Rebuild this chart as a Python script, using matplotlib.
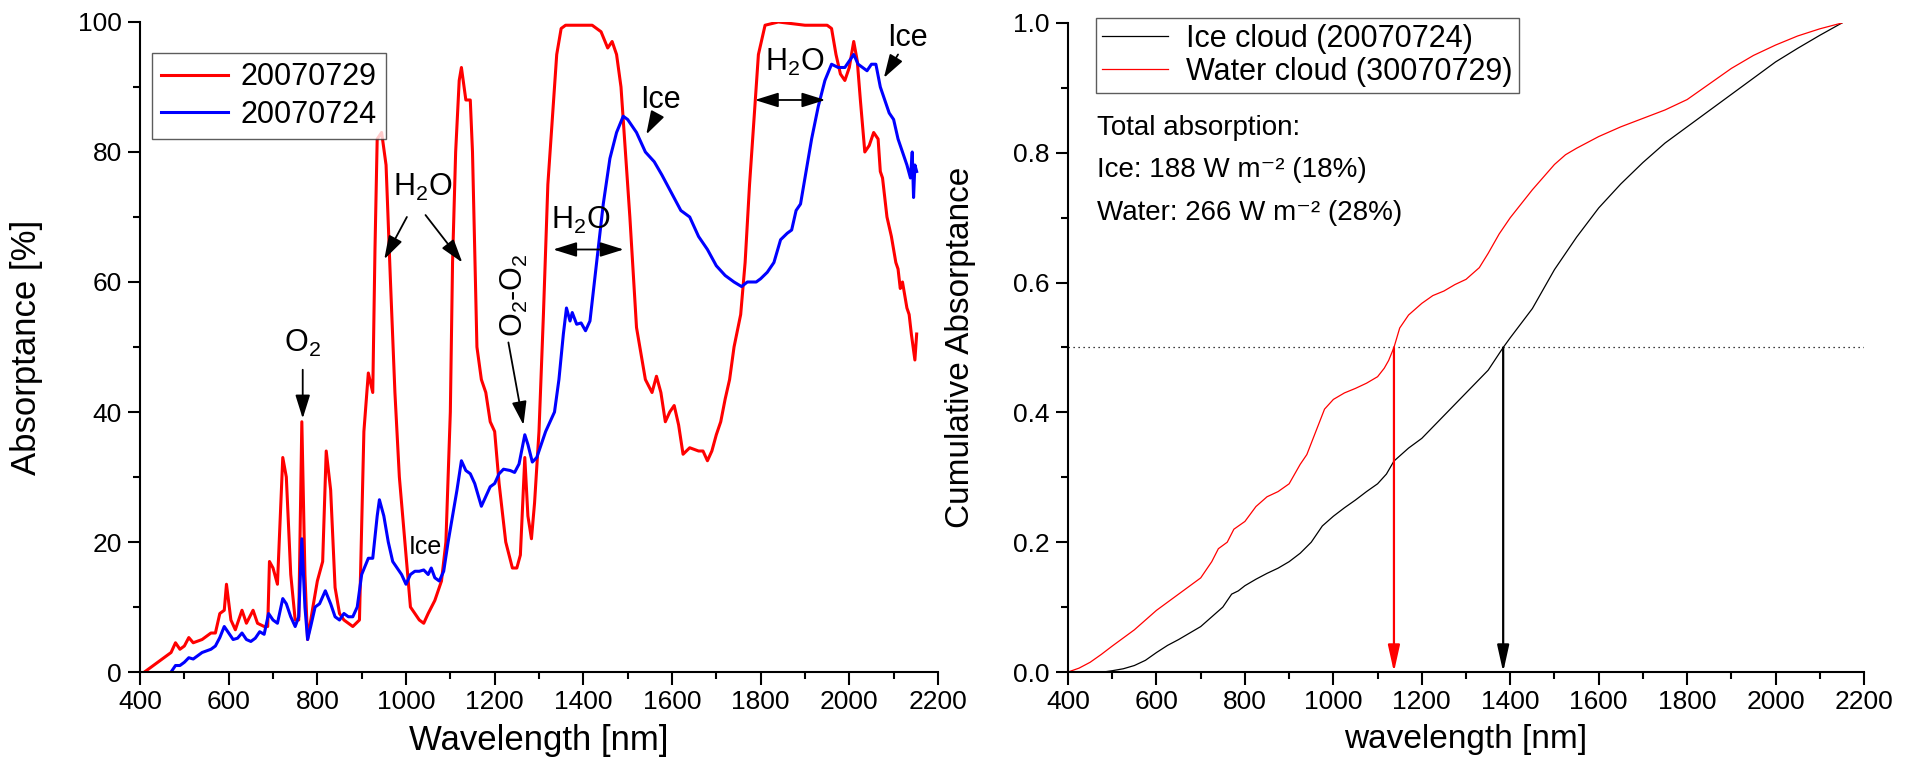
import matplotlib
matplotlib.use("Agg")
import matplotlib.pyplot as plt
from matplotlib.ticker import MultipleLocator

plt.rcParams["font.family"] = ["Liberation Sans", "DejaVu Sans"]

# -------------------------------
# DATA
# -------------------------------
# absorptance spectrum, water cloud 20070729
red_wl = [410, 430, 450, 470, 480, 490, 500, 510, 520, 540, 560, 570, 580, 590, 595, 605, 615,
          630, 640, 655, 665, 680, 688, 692, 700, 710, 722, 730, 740, 750, 758, 765, 772, 778,
          790, 800, 812, 820, 830, 840, 850, 860, 870, 880, 895, 905, 915, 925, 930, 935, 945,
          955, 965, 975, 985, 1000, 1010, 1020, 1030, 1040, 1050, 1065, 1080, 1090, 1100, 1105,
          1112, 1120, 1125, 1135, 1145, 1150, 1160, 1170, 1180, 1190, 1200, 1210, 1225, 1240,
          1250, 1258, 1268, 1275, 1283, 1290, 1300, 1310, 1320, 1330, 1340, 1350, 1360, 1400,
          1420, 1440, 1455, 1465, 1475, 1485, 1495, 1505, 1520, 1540, 1555, 1565, 1575, 1585,
          1595, 1605, 1615, 1625, 1640, 1660, 1670, 1680, 1690, 1700, 1710, 1720, 1730, 1740,
          1755, 1765, 1775, 1785, 1795, 1810, 1840, 1900, 1950, 1960, 1970, 1980, 1990, 2000,
          2010, 2018, 2025, 2035, 2045, 2055, 2065, 2070, 2075, 2085, 2095, 2105, 2110, 2115,
          2120, 2125, 2130, 2135, 2140, 2148, 2152]
red_val = [0, 1, 2, 3, 4.5, 3.5, 4, 5.3, 4.5, 5, 6, 6, 9, 9.5, 13.5, 8, 6.5,
           9.5, 7.5, 9.5, 7.5, 7, 7, 17, 16, 13.5, 33, 30, 15, 8, 8, 38.5, 15, 5,
           10, 14, 17, 34, 28, 13, 9, 8, 7.5, 7, 8, 37, 46, 43, 65, 82, 83,
           78, 60, 43, 30, 18, 10, 9, 8, 7.5, 9, 11, 14, 20, 40, 63,
           80, 91, 93, 88, 88, 80, 50, 45, 43, 38.5, 37, 29, 20, 16,
           16, 18, 33, 24, 20.5, 26, 37, 55, 75, 85, 95, 99, 99.5, 99.5,
           99.5, 98.5, 96, 97, 95, 90, 80, 70, 53, 45, 43, 45.5, 43, 38.5,
           40, 41, 38, 33.5, 34.5, 34, 34, 32.5, 34, 36.5, 38.5, 42, 45, 50,
           55, 63, 75, 85, 95, 99.5, 100, 99.5, 99.5, 99, 95, 92, 91, 93,
           97, 94, 88, 80, 81, 83, 82, 77, 76, 70, 67, 63, 62, 59,
           60, 58, 56, 55, 52, 48, 52]

# absorptance spectrum, ice cloud 20070724
blue_wl = [470, 480, 490, 500, 510, 520, 540, 560, 570, 580, 590, 600, 610, 620, 630, 640, 650,
           660, 670, 680, 690, 700, 710, 722, 730, 740, 750, 758, 765, 772, 778, 785, 795, 805,
           818, 830, 840, 850, 860, 870, 880, 890, 900, 915, 925, 935, 940, 950, 960, 970, 980,
           990, 1000, 1010, 1020, 1030, 1040, 1050, 1057, 1065, 1075, 1085, 1095, 1105, 1115,
           1125, 1135, 1145, 1155, 1170, 1180, 1190, 1200, 1210, 1220, 1235, 1245, 1255, 1268,
           1275, 1285, 1295, 1305, 1315, 1325, 1335, 1345, 1355, 1362, 1370, 1375, 1385, 1395,
           1405, 1415, 1425, 1435, 1445, 1460, 1475, 1490, 1500, 1520, 1540, 1560, 1577, 1602,
           1620, 1640, 1660, 1680, 1700, 1720, 1740, 1757, 1770, 1790, 1800, 1815, 1830, 1845,
           1860, 1870, 1880, 1890, 1900, 1915, 1930, 1945, 1960, 1975, 1990, 2000, 2010, 2020,
           2030, 2040, 2050, 2060, 2070, 2080, 2090, 2100, 2110, 2120, 2130, 2138, 2142, 2145,
           2148, 2152]
blue_val = [0, 1, 1, 1.5, 2.2, 2, 3, 3.5, 4, 5.3, 7, 6, 5, 5.2, 6, 5, 4.7,
            5.2, 6.2, 5.8, 9, 8, 7.5, 11.3, 10.5, 8.5, 7, 8.5, 20.5, 10, 5, 7, 10, 10.5,
            12.5, 10.5, 8.5, 8, 9, 8.5, 8.5, 10, 15, 17.5, 17.5, 24, 26.5, 24, 20, 17, 16,
            15, 13.5, 15, 15.5, 15.5, 15.7, 15, 16, 14.5, 14, 15.5, 20, 24, 28,
            32.5, 31, 30.5, 29, 25.5, 27, 28.5, 29, 30.5, 31.2, 31, 30.7, 32, 36.5,
            35, 32.3, 33, 35, 37, 38.5, 40, 45, 52, 56, 54, 55.3, 53.5, 53.7,
            52.5, 54, 60, 66, 72, 79, 83, 85.5, 85, 83, 80, 78.5, 76.5, 73.3,
            71, 70, 67, 65, 62.5, 61, 60, 59.3, 60, 60, 60.5, 61.5, 63, 66.5,
            67.5, 68, 71, 72, 76, 82, 87, 91, 93.5, 93, 93, 94, 95, 93.5,
            93, 92.5, 93.5, 93.5, 90, 88, 86, 85, 82, 80, 78, 76, 80, 73,
            78, 77]

# cumulative absorptance
ice_cum_wl = [400, 480, 500, 525, 550, 575, 600, 625, 650, 675, 700, 725, 750, 770, 785, 800, 825,
              850, 875, 900, 925, 950, 975, 1000, 1025, 1050, 1075, 1100, 1120, 1137, 1170, 1200,
              1250, 1300, 1350, 1384, 1400, 1450, 1500, 1550, 1600, 1650, 1700, 1750, 1800, 1850,
              1900, 1950, 2000, 2050, 2100, 2150]
ice_cum = [0, 0, 0.002, 0.005, 0.01, 0.018, 0.03, 0.041, 0.05, 0.06, 0.07, 0.085, 0.1, 0.12,
           0.125, 0.133, 0.143, 0.152, 0.16, 0.17, 0.183, 0.2, 0.225, 0.24, 0.253, 0.265, 0.278,
           0.29, 0.305, 0.325, 0.345, 0.36, 0.395, 0.43, 0.465, 0.5, 0.515, 0.56, 0.62, 0.67,
           0.715, 0.752, 0.785, 0.815, 0.84, 0.865, 0.89, 0.915, 0.94, 0.961, 0.981, 1.0]

water_cum_wl = [400, 425, 450, 475, 500, 550, 600, 650, 700, 725, 740, 760, 775, 800, 825, 850,
                875, 900, 925, 940, 960, 980, 1000, 1025, 1050, 1075, 1100, 1115, 1125, 1137, 1150,
                1170, 1200, 1225, 1250, 1275, 1300, 1330, 1350, 1375, 1400, 1450, 1500, 1525, 1550,
                1600, 1650, 1700, 1750, 1800, 1850, 1900, 1950, 2000, 2050, 2100, 2150]
water_cum = [0, 0.006, 0.015, 0.027, 0.04, 0.065, 0.095, 0.12, 0.145, 0.17, 0.19, 0.2, 0.22, 0.232,
             0.255, 0.27, 0.278, 0.29, 0.32, 0.335, 0.37, 0.405, 0.42, 0.43, 0.437, 0.445, 0.455,
             0.468, 0.48, 0.5, 0.53, 0.55, 0.568, 0.58, 0.587, 0.597, 0.605, 0.623, 0.645, 0.675,
             0.7, 0.743, 0.782, 0.797, 0.807, 0.825, 0.84, 0.853, 0.866, 0.882, 0.906, 0.93,
             0.95, 0.966, 0.98, 0.991, 1.0]

# wavelength where half of the absorption is reached
half_water = 1137
half_ice = 1384

# -------------------------------
# FIGURE
# -------------------------------
fig = plt.figure(figsize=(19.13, 7.66), dpi=100)
ax1 = fig.add_axes([0.0732, 0.1227, 0.4171, 0.8486])
ax2 = fig.add_axes([0.5583, 0.1227, 0.4161, 0.8473])

tick_fs = 19


def style_axes(ax):
    for side in ["top", "right"]:
        ax.spines[side].set_visible(False)
    for side in ["left", "bottom"]:
        ax.spines[side].set_linewidth(1.5)
    ax.tick_params(which="major", direction="out", length=9, width=1.5, labelsize=tick_fs, pad=4)
    ax.tick_params(which="minor", direction="out", length=5, width=1.5)
    ax.set_xlim(400, 2200)
    ax.xaxis.set_major_locator(MultipleLocator(200))
    ax.xaxis.set_minor_locator(MultipleLocator(100))


# -------------------------------
# LEFT: ABSORPTANCE SPECTRA
# -------------------------------
style_axes(ax1)
ax1.plot(red_wl, red_val, color="#ff0000", lw=2.2, label="20070729")
ax1.plot(blue_wl, blue_val, color="#0000ff", lw=2.2, label="20070724")
ax1.set_ylim(0, 100)
ax1.yaxis.set_major_locator(MultipleLocator(20))
ax1.yaxis.set_minor_locator(MultipleLocator(10))
ax1.set_xlabel("Wavelength [nm]", fontsize=25)
ax1.set_ylabel("Absorptance [%]", fontsize=25)
ax1.xaxis.set_label_coords(0.5, -0.08)
ax1.yaxis.set_label_coords(-0.122, 0.5)
leg1 = ax1.legend(loc="upper left", bbox_to_anchor=(0.015, 0.952), borderaxespad=0,
                  fontsize=22, fancybox=False, frameon=True, handlelength=2.2,
                  handletextpad=0.4, borderpad=0.3, labelspacing=0.25)
leg1.get_frame().set_edgecolor("#333333")
leg1.get_frame().set_linewidth(1.0)

ann_fs = 22
arrow = dict(arrowstyle="-|>,head_width=0.25,head_length=0.8", color="black", lw=1.3,
             mutation_scale=18, shrinkA=0, shrinkB=0)
darrow = dict(arrowstyle="<|-|>,head_width=0.25,head_length=0.8", color="black", lw=1.3,
              mutation_scale=18, shrinkA=0, shrinkB=0)

ax1.text(767, 50.5, "O$_\\mathregular{2}$", fontsize=ann_fs, ha="center", va="center")
ax1.annotate("", xy=(767, 39), xytext=(767, 46.5), arrowprops=arrow)

ax1.text(1037, 74.5, "H$_\\mathregular{2}$O", fontsize=ann_fs, ha="center", va="center")
ax1.annotate("", xy=(951, 63.5), xytext=(1002, 70), arrowprops=arrow)
ax1.annotate("", xy=(1127, 63), xytext=(1044, 70.3), arrowprops=arrow)

ax1.text(1044, 19.3, "Ice", fontsize=18, ha="center", va="center")

ax1.text(1245, 58, "O$_\\mathregular{2}$-O$_\\mathregular{2}$", fontsize=ann_fs, ha="center",
         va="center", rotation=90)
ax1.annotate("", xy=(1265, 38), xytext=(1231, 50.7), arrowprops=arrow)

ax1.text(1394, 69.5, "H$_\\mathregular{2}$O", fontsize=ann_fs, ha="center", va="center")
ax1.annotate("", xy=(1491, 65), xytext=(1332, 65), arrowprops=darrow)

ax1.text(1574, 88, "Ice", fontsize=ann_fs, ha="center", va="center")
ax1.annotate("", xy=(1542, 82.7), xytext=(1566, 85.7), arrowprops=arrow)

ax1.text(1877, 93.8, "H$_\\mathregular{2}$O", fontsize=ann_fs, ha="center", va="center")
ax1.annotate("", xy=(1946, 88), xytext=(1787, 88), arrowprops=darrow)

ax1.text(2131, 97.5, "Ice", fontsize=ann_fs, ha="center", va="center")
ax1.annotate("", xy=(2078, 91.4), xytext=(2110, 95), arrowprops=arrow)

# -------------------------------
# RIGHT: CUMULATIVE ABSORPTANCE
# -------------------------------
style_axes(ax2)
ax2.plot(ice_cum_wl, ice_cum, color="black", lw=0.9, label="Ice cloud (20070724)")
ax2.plot(water_cum_wl, water_cum, color="#ff0000", lw=0.9, label="Water cloud (30070729)")
ax2.set_ylim(0, 1.0)
ax2.yaxis.set_major_locator(MultipleLocator(0.2))
ax2.yaxis.set_minor_locator(MultipleLocator(0.1))
ax2.yaxis.set_major_formatter(plt.FormatStrFormatter("%.1f"))
ax2.set_xlabel("wavelength [nm]", fontsize=24)
ax2.set_ylabel("Cumulative Absorptance", fontsize=24)
ax2.xaxis.set_label_coords(0.5, -0.08)
ax2.yaxis.set_label_coords(-0.115, 0.5)

ax2.axhline(0.5, color="black", lw=0.9, ls=(0, (1, 3)))
ax2.annotate("", xy=(half_water, 0), xytext=(half_water, 0.5),
             arrowprops=dict(arrowstyle="-|>,head_width=0.2,head_length=0.9", color="#ff0000",
                             lw=1.6, mutation_scale=18, shrinkA=0, shrinkB=0))
ax2.annotate("", xy=(half_ice, 0), xytext=(half_ice, 0.5),
             arrowprops=dict(arrowstyle="-|>,head_width=0.2,head_length=0.9", color="black",
                             lw=1.6, mutation_scale=18, shrinkA=0, shrinkB=0))

leg2 = ax2.legend(loc="upper left", bbox_to_anchor=(0.035, 1.008), borderaxespad=0,
                  fontsize=22, fancybox=False, frameon=True, handlelength=2.15,
                  handletextpad=0.6, borderpad=0.2, labelspacing=0.1)
leg2.get_frame().set_edgecolor("#333333")
leg2.get_frame().set_linewidth(1.0)

ax2.text(0.036, 0.827, "Total absorption:", transform=ax2.transAxes, fontsize=20, va="baseline")
ax2.text(0.036, 0.763, "Ice: 188 W m\u207b\u00b2 (18%)", transform=ax2.transAxes,
         fontsize=20, va="baseline")
ax2.text(0.036, 0.696, "Water: 266 W m\u207b\u00b2 (28%)", transform=ax2.transAxes,
         fontsize=20, va="baseline")

plt.savefig("out.png", dpi=100)
